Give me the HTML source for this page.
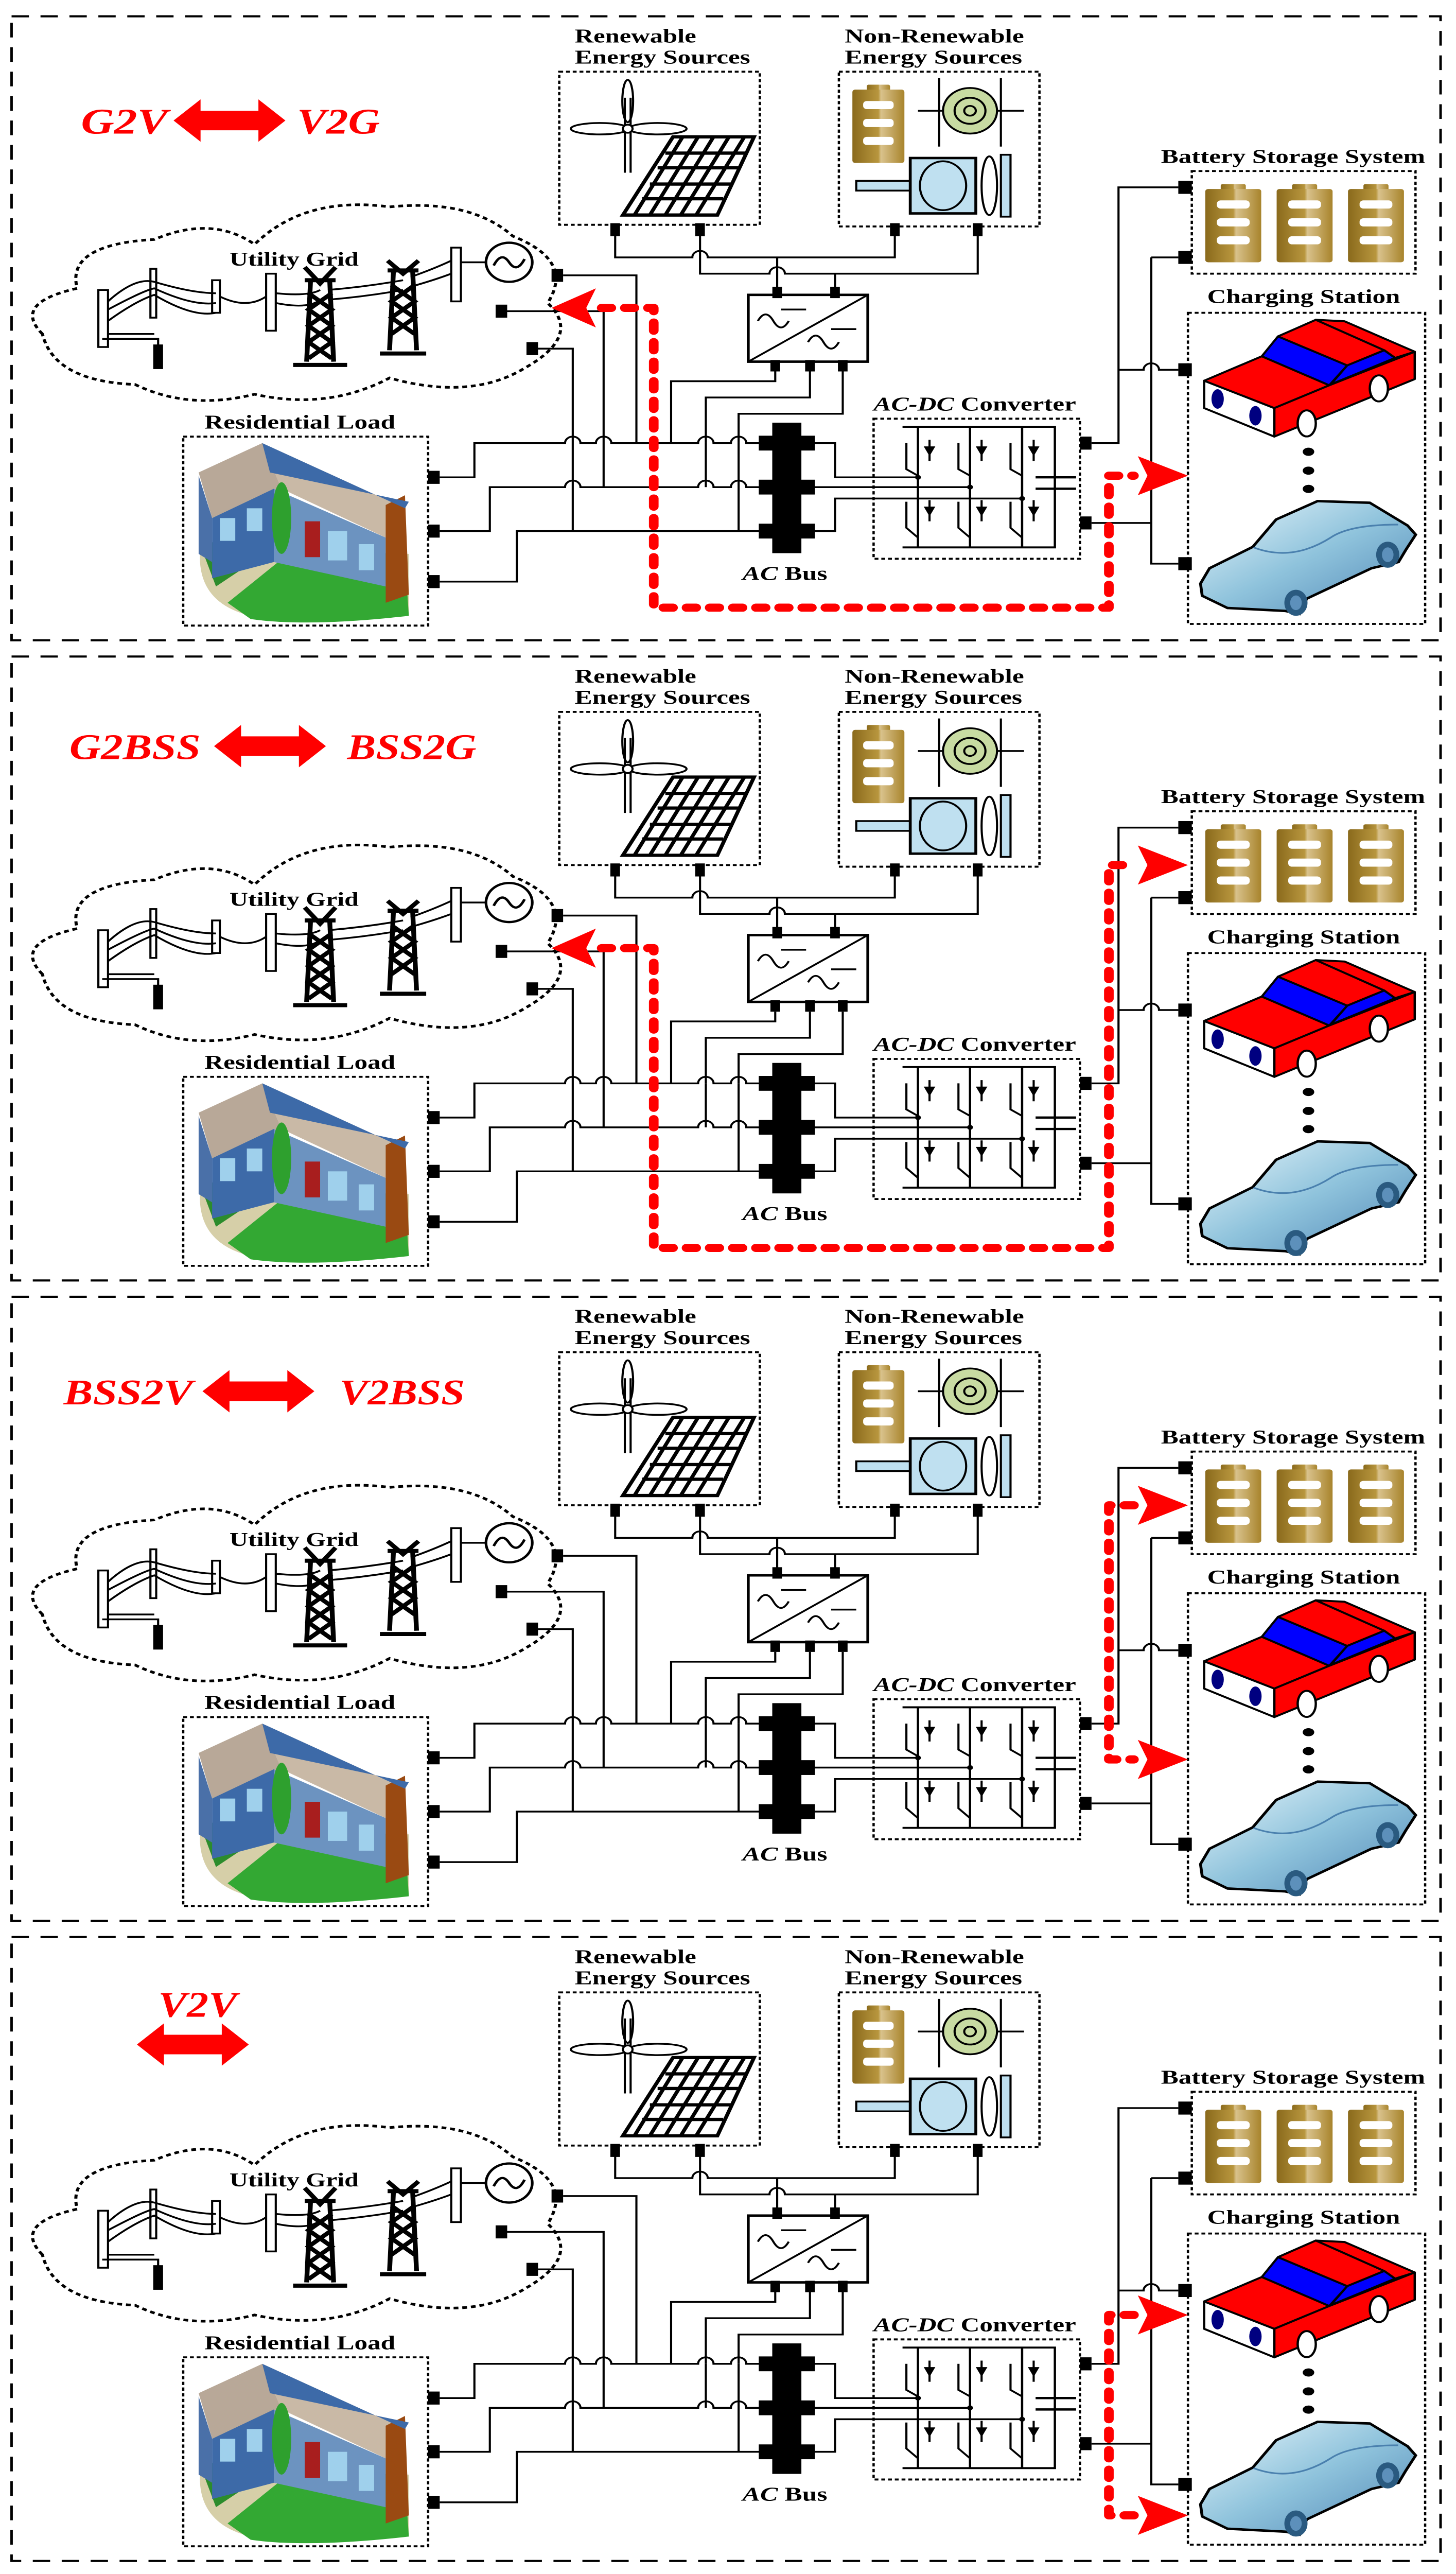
<!DOCTYPE html>
<html><head><meta charset="utf-8"><style>
html,body{margin:0;padding:0;background:#fff;width:100%;height:100%;overflow:hidden;}
svg{display:block;position:fixed;left:0;top:0;width:100vw;height:100vh;}
text{font-family:"Liberation Serif",serif;font-weight:bold;}
</style></head><body>
<svg viewBox="0 0 755 1580" preserveAspectRatio="none" xmlns="http://www.w3.org/2000/svg">
<defs>
<linearGradient id="gold" x1="0" x2="1" y1="0" y2="0">
<stop offset="0" stop-color="#8a6a1c"/><stop offset="0.5" stop-color="#b8963e"/><stop offset="0.55" stop-color="#d9c28c"/><stop offset="1" stop-color="#a8842c"/></linearGradient>
<linearGradient id="bcar" x1="0" x2="1" y1="0" y2="1">
<stop offset="0" stop-color="#e8f6fb"/><stop offset="0.5" stop-color="#8fc3dc"/><stop offset="1" stop-color="#4f86b5"/></linearGradient>
<g id="bat">
<rect x="8" y="0" width="13" height="5" rx="1" fill="url(#gold)"/>
<rect x="0" y="3" width="29" height="45" rx="1.5" fill="url(#gold)"/>
<rect x="6" y="10" width="17" height="5" rx="2" fill="#fff"/>
<rect x="6" y="21" width="17" height="5" rx="2" fill="#fff"/>
<rect x="6" y="32" width="17" height="5" rx="2" fill="#fff"/>
</g>
<g id="P" fill="none" stroke="#000" stroke-width="1.1">
<rect x="6" y="10" width="741" height="383" stroke-dasharray="9 6" stroke-width="1.3"/>
<text x="298" y="26" font-size="12" fill="#000" stroke="none" textLength="63" lengthAdjust="spacingAndGlyphs">Renewable</text>
<text x="298" y="39" font-size="12" fill="#000" stroke="none" textLength="91" lengthAdjust="spacingAndGlyphs">Energy Sources</text>
<rect x="290" y="44" width="104" height="94" stroke-dasharray="2 1.5" stroke-width="1.2"/>
<line x1="324" y1="60" x2="324" y2="106"/><line x1="327" y1="60" x2="327" y2="106"/>
<ellipse cx="325.5" cy="62" rx="2.8" ry="13"/>
<ellipse cx="311" cy="79" rx="15" ry="3.5"/><ellipse cx="341" cy="79" rx="15" ry="3.5"/>
<circle cx="325.5" cy="79" r="2.5" fill="#fff"/>
<polygon points="349,84 391,84 372,132 323,132" stroke-width="2"/>
<path d="M354,84 L329,132 M362,84 L337,132 M370,84 L345,132 M378,84 L353,132 M386,84 L361,132 M345,94 H387 M341,103 H383 M337,113 H379 M333,122 H375" stroke-width="2"/>
<text x="438" y="26" font-size="12" fill="#000" stroke="none" textLength="93" lengthAdjust="spacingAndGlyphs">Non-Renewable</text>
<text x="438" y="39" font-size="12" fill="#000" stroke="none" textLength="92" lengthAdjust="spacingAndGlyphs">Energy Sources</text>
<rect x="435" y="44" width="104" height="95" stroke-dasharray="2 1.5" stroke-width="1.2"/>
<use href="#bat" transform="translate(442,52) scale(0.93,1)" stroke="none"/>
<line x1="487" y1="48" x2="487" y2="90"/><line x1="519" y1="48" x2="519" y2="90"/>
<line x1="476" y1="68" x2="531" y2="68"/>
<circle cx="503" cy="68" r="14" fill="#c8dba2"/><circle cx="503" cy="68" r="8"/><circle cx="503" cy="68" r="3"/>
<rect x="444" y="111" width="28" height="6" fill="#bfe0f0"/>
<rect x="472" y="97" width="34" height="34" fill="#bfe0f0" stroke-width="1.5"/>
<ellipse cx="489" cy="114" rx="12" ry="15"/>
<ellipse cx="513" cy="114" rx="4" ry="18"/><rect x="519" y="95" width="5" height="38" fill="#bfe0f0"/>
<path d="M319,141 V158 H359 a4,4 0 0 1 8,0 H464 V141 M363,141 V168 H399 a4,4 0 0 1 8,0 H507 V141 M403,158 V181 M433,168 V181"/>
<g fill="#000" stroke="none">
<rect x="316.5" y="137" width="5" height="8"/><rect x="360.5" y="137" width="5" height="8"/>
<rect x="461.5" y="137" width="5" height="8"/><rect x="504.5" y="137" width="5" height="8"/>
<rect x="400.5" y="176" width="5" height="7"/><rect x="430.5" y="176" width="5" height="7"/>
<rect x="399.5" y="221" width="5" height="7"/><rect x="417.5" y="221" width="5" height="7"/><rect x="434.5" y="221" width="5" height="7"/>
</g>
<rect x="388" y="181" width="62" height="41" stroke-width="1.5"/>
<line x1="388" y1="222" x2="450" y2="181"/>
<path d="M393,197 q4,-8 8,0 q4,8 8,0 M405,190 H418 M419,210 q4,-8 8,0 q4,8 8,0 M431,202 H444"/>
<path d="M402,228 V234 H348 V272 M420,228 V244 H366 V272 M437,228 V254 H383 V272"/>
<path d="M22,205 Q6,186 40,177 Q34,150 80,147 Q110,132 132,150 Q158,120 202,127 Q244,122 266,145 Q298,160 284,186 Q302,206 272,226 Q244,246 202,232 Q170,252 132,242 Q98,252 70,236 Q28,234 22,205 Z" stroke-dasharray="2.5 2" stroke-width="1.6"/>
<text x="119" y="163" font-size="12" fill="#000" stroke="none" textLength="67" lengthAdjust="spacingAndGlyphs">Utility Grid</text>
<rect x="51" y="178" width="5" height="35"/><rect x="78" y="165" width="3" height="30"/><rect x="110" y="172" width="4" height="20"/><rect x="138" y="168" width="5" height="35"/><rect x="234" y="152" width="5" height="33"/>
<path d="M56,185 Q70,170 80,173 Q100,180 112,180 M56,190 Q75,178 80,177 Q100,188 112,186 M56,197 Q70,185 80,181 Q100,195 112,192 M114,182 Q128,190 138,182 M143,180 Q160,182 166,178 M143,186 Q160,190 166,184 M170,178 Q190,176 209,172 M170,184 Q190,182 209,178 M213,170 Q225,165 234,160 M213,176 Q225,172 234,168"/>
<path d="M53,208 H82 V220 M80,205 H56"/>
<rect x="80" y="212" width="4" height="14" fill="#000"/>
<path d="M158,164 L166,174 L174,164 M158,172 H174 M161,173 L159,222 M171,173 L173,222 M160,180 L172,190 L160,200 L172,210 L160,220 M172,180 L160,190 L172,200 L160,210 L172,220 M152,224 H180" stroke-width="2.5"/>
<path d="M201,160 L209,168 L217,160 M201,166 H217 M204,167 L202,215 M214,167 L216,215 M203,175 L215,185 L203,195 L215,205 M215,175 L203,185 L215,195 L203,205 M197,217 H221" stroke-width="2.5"/>
<line x1="239" y1="161" x2="252" y2="161"/>
<circle cx="264" cy="161" r="12" stroke-width="1.4"/>
<path d="M256,163 q4,-9 8,-2 q4,7 8,-2" stroke-width="1.4"/>
<text x="106" y="263" font-size="12" fill="#000" stroke="none" textLength="99" lengthAdjust="spacingAndGlyphs">Residential Load</text>
<rect x="95" y="268" width="127" height="116" stroke-dasharray="2 1.5" stroke-width="1.2"/>
<g stroke="none">
<path d="M104,335 Q100,375 140,380 L212,378 L212,340 Z" fill="#d6cfa8"/>
<path d="M118,370 L160,330 L210,342 L212,378 Q160,385 130,380 Z" fill="#33a833"/>
<path d="M104,335 L140,322 L150,330 L112,360 Z" fill="#2c8c2c"/>
<polygon points="103,290 136,272 146,300 110,318" fill="#b8a898"/>
<polygon points="136,272 210,312 200,330 146,300" fill="#c9b9a6"/>
<polygon points="103,292 110,318 110,345 103,340" fill="#4a70a8"/>
<polygon points="110,318 142,300 142,345 110,355" fill="#3d6aa8"/>
<rect x="114" y="318" width="8" height="14" fill="#9fd0ec"/><rect x="128" y="312" width="8" height="14" fill="#9fd0ec"/>
<polygon points="142,300 200,330 200,360 142,345" fill="#6c93c0"/>
<rect x="170" y="326" width="10" height="18" fill="#9fd0ec"/><rect x="186" y="334" width="8" height="16" fill="#9fd0ec"/>
<rect x="158" y="320" width="8" height="22" fill="#a81e1e"/>
<ellipse cx="146" cy="318" rx="5" ry="22" fill="#2ea02e"/>
<polygon points="200,310 210,304 212,365 200,370" fill="#9a4a12"/>
<polygon points="140,290 136,272 210,312 212,308" fill="#3d6aa8"/>
</g>
<g fill="#000" stroke="none">
<rect x="222" y="289" width="6" height="8"/><rect x="222" y="322" width="6" height="8"/><rect x="222" y="353" width="6" height="8"/>
<rect x="286" y="165" width="6" height="8"/><rect x="257" y="187" width="6" height="8"/><rect x="273" y="210" width="6" height="8"/>
</g>
<path d="M228,293 H246 V272 H293 a4,4 0 0 1 8,0 H309 a4,4 0 0 1 8,0 H362 a4,4 0 0 1 8,0 H379 a4,4 0 0 1 8,0 H401"/>
<path d="M228,326 H254 V299 H293 a4,4 0 0 1 8,0 H362 a4,4 0 0 1 8,0 H379 a4,4 0 0 1 8,0 H401"/>
<path d="M228,357 H268 V326 H401"/>
<path d="M366,272 V299 M383,272 V326"/>
<path d="M292,169 H330 V272 M263,191 H313 V299 M279,214 H297 V326"/>
<rect x="401" y="260" width="14" height="79" fill="#000"/>
<rect x="394" y="268" width="28" height="8" fill="#000"/><rect x="394" y="295" width="28" height="8" fill="#000"/><rect x="394" y="322" width="28" height="8" fill="#000"/>
<text x="385" y="356" font-size="12" fill="#000" stroke="none" textLength="44" lengthAdjust="spacingAndGlyphs"><tspan font-style="italic">AC</tspan> Bus</text>
<text x="453" y="252" font-size="12" fill="#000" stroke="none" textLength="105" lengthAdjust="spacingAndGlyphs"><tspan font-style="italic">AC-DC</tspan> Converter</text>
<rect x="453" y="257" width="107" height="86" stroke-dasharray="2 1.5" stroke-width="1.2"/>
<path d="M476,262 V336 M503,262 V336 M530,262 V336 M468,262 H547 V336 H468 M547,262 V292 M547,301 V336" stroke-width="1.2"/>
<path d="M537,293 H558 M537,300 H558" stroke-width="1.4"/>
<g fill="#000" stroke="none">
<polygon points="479,274 485,274 482,280"/><polygon points="506,274 512,274 509,280"/><polygon points="533,274 539,274 536,280"/>
<polygon points="479,311 485,311 482,317"/><polygon points="506,311 512,311 509,317"/><polygon points="533,311 539,311 536,317"/>
<circle cx="476" cy="293" r="1.5"/><circle cx="503" cy="299" r="1.5"/><circle cx="530" cy="306" r="1.5"/>
</g>
<path d="M482,270 V283 M509,270 V283 M536,270 V283 M482,307 V320 M509,307 V320 M536,307 V320"/>
<path d="M470,272 V288 L476,292 M497,272 V288 L503,292 M524,272 V288 L530,292 M470,308 V324 L476,330 M497,308 V324 L503,330 M524,308 V324 L530,330"/>
<path d="M415,272 H433 V293 H476 M415,299 H503 M415,326 H433 V306 H530"/>
<g fill="#000" stroke="none">
<rect x="560" y="268" width="6" height="8"/><rect x="560" y="317" width="6" height="8"/>
<rect x="611" y="111" width="7" height="8"/><rect x="611" y="154" width="7" height="8"/>
<rect x="611" y="223" width="7" height="8"/><rect x="611" y="342" width="7" height="8"/>
</g>
<path d="M566,272 H580 V115 H611 M566,321 H597 M597,158 H611 M597,158 V346 H611 M580,227 H593 a4,4 0 0 1 8,0 H611"/>
<text x="602" y="100" font-size="12" fill="#000" stroke="none" textLength="137" lengthAdjust="spacingAndGlyphs">Battery Storage System</text>
<rect x="618" y="105" width="116" height="63" stroke-dasharray="2 1.5" stroke-width="1.2"/>
<use href="#bat" x="625" y="113" stroke="none"/><use href="#bat" x="662" y="113" stroke="none"/><use href="#bat" x="699" y="113" stroke="none"/>
<text x="626" y="186" font-size="12" fill="#000" stroke="none" textLength="100" lengthAdjust="spacingAndGlyphs">Charging Station</text>
<rect x="616" y="192" width="123" height="191" stroke-dasharray="2 1.5" stroke-width="1.2"/>
<g stroke-width="1.2" stroke-linejoin="round">
<polygon points="624.4,233.7 624.4,250.5 660.8,268 660.8,250.5" fill="#fff"/>
<polygon points="624.4,233.7 654.3,218.7 689.3,236.5 660.8,250.5" fill="#f00"/>
<polygon points="654.3,218.7 662.7,206.5 698.6,224.3 689.3,236.5" fill="#00f"/>
<polygon points="662.7,206.5 682.3,196.3 717.8,215 698.6,224.3" fill="#f00"/>
<polygon points="682.3,196.3 697.2,197.2 733.6,215.9 723.4,219.7 717.8,215" fill="#f00"/>
<polygon points="698.6,224.3 717.8,215 723.4,219.7 690,236" fill="#00f"/>
<polygon points="660.8,250.5 689.3,236.5 733.6,215.9 733.6,232.7 660.8,268" fill="#f00"/>
<ellipse cx="677.6" cy="259.9" rx="4.7" ry="8" fill="#fff"/>
<ellipse cx="715" cy="238.4" rx="4.7" ry="8" fill="#fff"/>
</g>
<g fill="#000080" stroke="none"><ellipse cx="631.4" cy="244.9" rx="3.2" ry="6"/><ellipse cx="651" cy="255.2" rx="3.2" ry="6"/></g>
<g fill="#000" stroke="none"><ellipse cx="678.5" cy="277.3" rx="3" ry="2.5"/><ellipse cx="678.5" cy="288.9" rx="3" ry="2.5"/><ellipse cx="678.5" cy="300.1" rx="3" ry="2.5"/></g>
<polygon points="622.5,358.2 627.2,348.8 649.6,335.7 661.7,318.9 683.2,307.6 710.3,308.6 729.9,322.6 734.1,328.2 729,337.5 725.2,345 711.2,348.8 677.6,367.5 673.9,376.9 666.4,375 636.5,373.2 623.4,365.7" fill="url(#bcar)" stroke-width="1.5"/>
<path d="M650,336 Q670,345 690,330 Q700,322 725,322" stroke="#4a80ae" stroke-width="1"/>
<ellipse cx="672" cy="370" rx="6" ry="8" fill="#2a5a80" stroke="none"/><ellipse cx="719.6" cy="340.5" rx="6" ry="8" fill="#2a5a80" stroke="none"/>
<ellipse cx="672" cy="370" rx="3" ry="4.5" fill="#5d90bb" stroke="none"/><ellipse cx="719.6" cy="340.5" rx="3" ry="4.5" fill="#5d90bb" stroke="none"/>
</g>
<g id="RA"><polygon points="616,0 590,-12 595,0 590,12" fill="#f00"/></g>
<g id="LA"><polygon points="286,0 309,-12 304,0 309,12" fill="#f00"/></g>
<g id="DA"><polygon points="0,0 14,-13 14,-6 44,-6 44,-13 58,0 44,13 44,6 14,6 14,13" fill="#f00"/></g>
</defs>

<use href="#P"/>
<use href="#P" y="393"/>
<use href="#P" y="786"/>
<use href="#P" y="1179"/>

<g fill="#f00" font-style="italic" font-size="22">
<text x="42" y="82" textLength="45" lengthAdjust="spacingAndGlyphs">G2V</text>
<use href="#DA" x="90" y="74"/>
<text x="154" y="82" textLength="43" lengthAdjust="spacingAndGlyphs">V2G</text>
<text x="36" y="466" textLength="68" lengthAdjust="spacingAndGlyphs">G2BSS</text>
<use href="#DA" x="111" y="458"/>
<text x="180" y="466" textLength="67" lengthAdjust="spacingAndGlyphs">BSS2G</text>
<text x="33" y="862" textLength="67" lengthAdjust="spacingAndGlyphs">BSS2V</text>
<use href="#DA" x="105" y="854"/>
<text x="176" y="862" textLength="65" lengthAdjust="spacingAndGlyphs">V2BSS</text>
<text x="82" y="1238" textLength="41" lengthAdjust="spacingAndGlyphs">V2V</text>
<use href="#DA" x="71" y="1255"/>
</g>

<g fill="none" stroke="#f00" stroke-width="5" stroke-dasharray="5 7" stroke-linecap="round" stroke-linejoin="round">
<path d="M312,189 H339 V373 H575 V292 H588"/>
<path d="M312,582 H339 V766 H575 V531 H588"/>
<path d="M588,924 H575 V1080 H588"/>
<path d="M588,1421 H575 V1544 H588"/>
</g>
<use href="#LA" y="189"/>
<use href="#RA" y="292"/>
<use href="#LA" y="582"/>
<use href="#RA" y="531"/>
<use href="#RA" y="924"/>
<use href="#RA" y="1080"/>
<use href="#RA" y="1421"/>
<use href="#RA" y="1544"/>
</svg>
</body></html>
